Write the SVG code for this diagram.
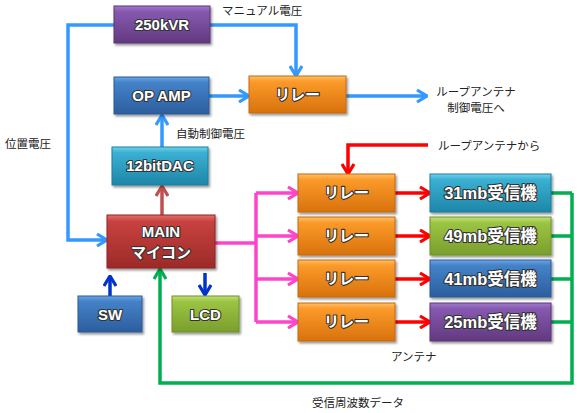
<svg xmlns="http://www.w3.org/2000/svg" width="580" height="413" viewBox="0 0 580 413">
<style>
.box{stroke-width:1;filter:url(#sh)}
.bt{font-family:"Liberation Sans","Noto Sans CJK JP",sans-serif;font-weight:bold;font-size:15px;fill:#fff;stroke:#333;stroke-width:2.2px;paint-order:stroke;stroke-linejoin:round;text-anchor:middle}
.rx{font-size:16.5px}
.lb{font-family:"Noto Sans CJK JP",sans-serif;font-size:11.5px;fill:#222}
.c{fill:none;stroke-width:3.5;stroke-linejoin:miter}
.blue{stroke:#3399ff}.pink{stroke:#ff44cc}.red{stroke:#ff0000}.green{stroke:#00b050}.dred{stroke:#c0504d}.dblue{stroke:#0033cc}
</style>
<defs>
<filter id="sh" x="-10%" y="-10%" width="130%" height="140%"><feDropShadow dx="1.5" dy="2" stdDeviation="1.2" flood-opacity="0.4"/></filter>
<linearGradient id="gPur" x1="0" y1="0" x2="0" y2="1"><stop offset="0" stop-color="#a07bcc"/><stop offset="0.15" stop-color="#8659b0"/><stop offset="1" stop-color="#62397f"/></linearGradient>
<linearGradient id="gBlu" x1="0" y1="0" x2="0" y2="1"><stop offset="0" stop-color="#6aa6e6"/><stop offset="0.15" stop-color="#4482c8"/><stop offset="1" stop-color="#2c5e9e"/></linearGradient>
<linearGradient id="gOra" x1="0" y1="0" x2="0" y2="1"><stop offset="0" stop-color="#ffc068"/><stop offset="0.15" stop-color="#fb9a2a"/><stop offset="1" stop-color="#d8720c"/></linearGradient>
<linearGradient id="gTea" x1="0" y1="0" x2="0" y2="1"><stop offset="0" stop-color="#72d2ea"/><stop offset="0.15" stop-color="#3ab0d2"/><stop offset="1" stop-color="#1e86a8"/></linearGradient>
<linearGradient id="gRed" x1="0" y1="0" x2="0" y2="1"><stop offset="0" stop-color="#e4706e"/><stop offset="0.12" stop-color="#c84240"/><stop offset="1" stop-color="#9c2a28"/></linearGradient>
<linearGradient id="gGrn" x1="0" y1="0" x2="0" y2="1"><stop offset="0" stop-color="#c2e07a"/><stop offset="0.15" stop-color="#9cc444"/><stop offset="1" stop-color="#7a9e2c"/></linearGradient>
<marker id="aBlue" viewBox="0 0 12 14" refX="11" refY="7" markerWidth="12" markerHeight="14" markerUnits="userSpaceOnUse" orient="auto"><path d="M1,1 L11,7 L1,13" fill="none" stroke="#3399ff" stroke-width="3.2"/></marker>
<marker id="aPink" viewBox="0 0 12 14" refX="11" refY="7" markerWidth="12" markerHeight="14" markerUnits="userSpaceOnUse" orient="auto"><path d="M1,1 L11,7 L1,13" fill="none" stroke="#ff44cc" stroke-width="3.2"/></marker>
<marker id="aRed" viewBox="0 0 12 14" refX="11" refY="7" markerWidth="12" markerHeight="14" markerUnits="userSpaceOnUse" orient="auto"><path d="M1,1 L11,7 L1,13" fill="none" stroke="#ff0000" stroke-width="3.2"/></marker>
<marker id="aGreen" viewBox="0 0 12 14" refX="11" refY="7" markerWidth="12" markerHeight="14" markerUnits="userSpaceOnUse" orient="auto"><path d="M1,1 L11,7 L1,13" fill="none" stroke="#00b050" stroke-width="3.2"/></marker>
<marker id="aDred" viewBox="0 0 12 14" refX="11" refY="7" markerWidth="12" markerHeight="14" markerUnits="userSpaceOnUse" orient="auto"><path d="M1,1 L11,7 L1,13" fill="none" stroke="#c0504d" stroke-width="3.2"/></marker>
<marker id="aDblue" viewBox="0 0 12 14" refX="11" refY="7" markerWidth="12" markerHeight="14" markerUnits="userSpaceOnUse" orient="auto"><path d="M1,1 L11,7 L1,13" fill="none" stroke="#0033cc" stroke-width="3.2"/></marker>
</defs>
<rect width="580" height="413" fill="#fff"/>
<g id="connectors">
<path class="c blue" d="M114,25 H68 V240 H107" marker-end="url(#aBlue)"/>
<path class="c blue" d="M210,25 H296 V76" marker-end="url(#aBlue)"/>
<path class="c blue" d="M209,96 H249" marker-end="url(#aBlue)"/>
<path class="c blue" d="M346,96 H427" marker-end="url(#aBlue)"/>
<path class="c blue" d="M162,147 V115" marker-end="url(#aBlue)"/>
<path class="c dred" d="M162,215 V186" marker-end="url(#aDred)"/>
<path class="c pink" d="M215,243 H256 M256,193 V322"/>
<path class="c pink" d="M256,193 H298" marker-end="url(#aPink)"/>
<path class="c pink" d="M256,236 H298" marker-end="url(#aPink)"/>
<path class="c pink" d="M256,279 H298" marker-end="url(#aPink)"/>
<path class="c pink" d="M256,322 H298" marker-end="url(#aPink)"/>
<path class="c red" d="M428,145 H348 V174" marker-end="url(#aRed)"/>
<path class="c red" d="M395,193 H430" marker-end="url(#aRed)"/>
<path class="c red" d="M395,236 H430" marker-end="url(#aRed)"/>
<path class="c red" d="M395,279 H430" marker-end="url(#aRed)"/>
<path class="c red" d="M395,322 H430" marker-end="url(#aRed)"/>
<path class="c green" d="M551,193 H572 M551,236 H572 M551,279 H572 M551,322 H572"/>
<path class="c green" d="M572,193 V383 H160 V269" marker-end="url(#aGreen)"/>
<path class="c dblue" d="M110,296 V276" marker-end="url(#aDblue)"/>
<path class="c dblue" d="M205,273 V295" marker-end="url(#aDblue)"/>
</g>
<g id="kvr"><rect class="box" x="114" y="6" width="96" height="37" fill="url(#gPur)" stroke="#5a3578"/><text class="bt" x="162" y="30">250kVR</text></g>
<g id="opamp"><rect class="box" x="114" y="77" width="95" height="37" fill="url(#gBlu)" stroke="#2a5a96"/><text class="bt" x="161.5" y="101">OP AMP</text></g>
<g id="relay0"><rect class="box" x="249" y="76" width="97" height="37" fill="url(#gOra)" stroke="#c06a10"/><text class="bt" x="297.5" y="100">リレー</text></g>
<g id="dac"><rect class="box" x="112" y="147" width="96" height="38" fill="url(#gTea)" stroke="#1c7e9e"/><text class="bt" x="160" y="171">12bitDAC</text></g>
<g id="main"><rect class="box" x="107" y="215" width="108" height="53" fill="url(#gRed)" stroke="#8c2624"/><text class="bt" x="161" y="237">MAIN</text><text class="bt" x="161" y="258">マイコン</text></g>
<g id="sw"><rect class="box" x="78" y="296" width="64" height="36" fill="url(#gBlu)" stroke="#2a5a96"/><text class="bt" x="110" y="320">SW</text></g>
<g id="lcd"><rect class="box" x="172" y="296" width="67" height="36" fill="url(#gGrn)" stroke="#6e9028"/><text class="bt" x="205.5" y="320">LCD</text></g>
<g id="relay1"><rect class="box" x="298" y="174" width="97" height="38" fill="url(#gOra)" stroke="#c06a10"/><text class="bt" x="346.5" y="198">リレー</text></g>
<g id="relay2"><rect class="box" x="298" y="217" width="97" height="38" fill="url(#gOra)" stroke="#c06a10"/><text class="bt" x="346.5" y="241">リレー</text></g>
<g id="relay3"><rect class="box" x="298" y="260" width="97" height="37" fill="url(#gOra)" stroke="#c06a10"/><text class="bt" x="346.5" y="284">リレー</text></g>
<g id="relay4"><rect class="box" x="298" y="303" width="97" height="38" fill="url(#gOra)" stroke="#c06a10"/><text class="bt" x="346.5" y="327">リレー</text></g>
<g id="rx31"><rect class="box" x="430" y="174" width="121" height="38" fill="url(#gTea)" stroke="#1c7e9e"/><text class="bt rx" x="490.5" y="199">31mb受信機</text></g>
<g id="rx49"><rect class="box" x="430" y="217" width="121" height="38" fill="url(#gGrn)" stroke="#6e9028"/><text class="bt rx" x="490.5" y="242">49mb受信機</text></g>
<g id="rx41"><rect class="box" x="430" y="260" width="121" height="37" fill="url(#gBlu)" stroke="#2a5a96"/><text class="bt rx" x="490.5" y="285">41mb受信機</text></g>
<g id="rx25"><rect class="box" x="430" y="303" width="121" height="38" fill="url(#gPur)" stroke="#5a3578"/><text class="bt rx" x="490.5" y="328">25mb受信機</text></g>
<g id="labels">
<text class="lb" x="222" y="15">マニュアル電圧</text>
<text class="lb" x="476" y="96" text-anchor="middle">ループアンテナ</text>
<text class="lb" x="476" y="112" text-anchor="middle">制御電圧へ</text>
<text class="lb" x="176" y="138">自動制御電圧</text>
<text class="lb" x="5" y="148">位置電圧</text>
<text class="lb" x="438" y="150">ループアンテナから</text>
<text class="lb" x="391" y="361">アンテナ</text>
<text class="lb" x="312" y="407">受信周波数データ</text>
</g>
</svg>
